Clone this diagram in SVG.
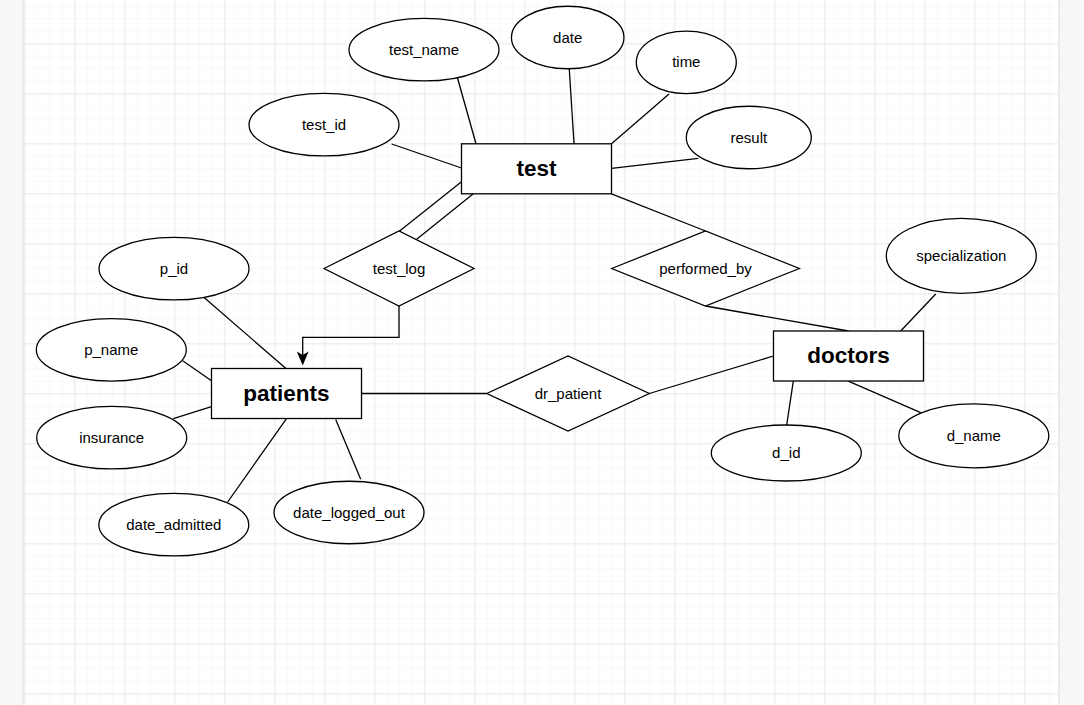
<svg xmlns="http://www.w3.org/2000/svg" width="1084" height="705" viewBox="0 0 1084 705">
<defs>
<pattern id="minor" x="24.3" y="5.8" width="12.5" height="12.5" patternUnits="userSpaceOnUse">
<path d="M0,0 H12.5 M0,0 V12.5" fill="none" stroke="#f1f1f1" stroke-width="1"/>
</pattern>
<pattern id="major" x="24.3" y="-6.7" width="50" height="50" patternUnits="userSpaceOnUse">
<path d="M0,0 H50 M0,0 V50" fill="none" stroke="#dddddd" stroke-width="1"/>
</pattern>
<style>
.conn line, .conn path { stroke: #000; stroke-width: 1.3; fill: none; }
.attr { fill: #fff; stroke: #000; stroke-width: 1.3; }
.ent { fill: #fff; stroke: #000; stroke-width: 1.3; }
.rel { fill: #fff; stroke: #000; stroke-width: 1.3; }
.lbl { font-family: "Liberation Sans", Arial, sans-serif; font-size: 15px; fill: #000; text-anchor: middle; }
.elbl { font-family: "Liberation Sans", Arial, sans-serif; font-size: 22.5px; font-weight: bold; fill: #000; text-anchor: middle; }
</style>
</defs>
<rect x="0" y="0" width="1084" height="705" fill="#f7f7f7"/>
<rect x="22" y="0" width="1038" height="705" fill="#ebebeb"/>
<rect x="24" y="0" width="1034" height="705" fill="#ffffff"/>
<rect x="24" y="0" width="1034" height="705" fill="url(#minor)"/>
<rect x="24" y="0" width="1034" height="705" fill="url(#major)"/>

<g id="connectors" class="conn">
<line x1="457" y1="76.3" x2="476" y2="143.8"/>
<line x1="391.7" y1="144" x2="461.5" y2="168"/>
<line x1="569.3" y1="69" x2="574" y2="143.8"/>
<line x1="669" y1="94" x2="611.5" y2="143.8"/>
<line x1="698.3" y1="158.3" x2="611.5" y2="168.3"/>
<line x1="461.5" y1="181.7" x2="399" y2="231.5"/>
<line x1="473.3" y1="193.8" x2="416.7" y2="239.3"/>
<line x1="611.5" y1="193.8" x2="705.5" y2="231"/>
<line x1="705.5" y1="306" x2="848.5" y2="331"/>
<line x1="935.7" y1="294" x2="900.7" y2="331"/>
<line x1="786.7" y1="425" x2="793.3" y2="381.2"/>
<line x1="848.3" y1="381.2" x2="920.7" y2="412.7"/>
<line x1="649.3" y1="393.5" x2="773.5" y2="356"/>
<line x1="361.5" y1="393.5" x2="486.7" y2="393.5"/>
<path d="M399,306 V337.3 H302.7 V356"/>
<path d="M302.7,363.8 L298.2,353 L302.7,355.8 L307.2,353 Z" fill="#000" style="fill:#000"/>
<line x1="200" y1="294" x2="286" y2="368.5"/>
<line x1="182.7" y1="360.7" x2="211.5" y2="380.7"/>
<line x1="173.3" y1="418.7" x2="211.5" y2="406.7"/>
<line x1="227.7" y1="502" x2="286.5" y2="418.7"/>
<line x1="360.7" y1="479.3" x2="335.7" y2="419.5"/>
</g>

<g id="test">
<rect class="ent" x="461.5" y="143.8" width="150" height="50"/>
<text class="elbl" x="536.5" y="175.8">test</text>
</g>
<g id="patients">
<rect class="ent" x="211.5" y="368.5" width="150" height="50"/>
<text class="elbl" x="286.5" y="400.5">patients</text>
</g>
<g id="doctors">
<rect class="ent" x="773.5" y="331" width="150" height="50"/>
<text class="elbl" x="848.5" y="363">doctors</text>
</g>

<g id="test_log">
<polygon class="rel" points="324,268.5 399,231 474,268.5 399,306"/>
<text class="lbl" x="399" y="273.5">test_log</text>
</g>
<g id="performed_by">
<polygon class="rel" points="611.7,268.5 705.5,231 799.3,268.5 705.5,306"/>
<text class="lbl" x="705.5" y="273.5">performed_by</text>
</g>
<g id="dr_patient">
<polygon class="rel" points="486.7,393.5 568,356 649.3,393.5 568,431"/>
<text class="lbl" x="568" y="398.5">dr_patient</text>
</g>

<g id="test_name">
<ellipse class="attr" cx="424" cy="49.7" rx="75" ry="31.25"/>
<text class="lbl" x="424" y="54.7">test_name</text>
</g>
<g id="test_id">
<ellipse class="attr" cx="324" cy="124.7" rx="75" ry="31.25"/>
<text class="lbl" x="324" y="129.7">test_id</text>
</g>
<g id="date">
<ellipse class="attr" cx="567.7" cy="37.5" rx="56.25" ry="31.25"/>
<text class="lbl" x="567.7" y="42.5">date</text>
</g>
<g id="time">
<ellipse class="attr" cx="686.3" cy="62.3" rx="50" ry="31.25"/>
<text class="lbl" x="686.3" y="67.3">time</text>
</g>
<g id="result">
<ellipse class="attr" cx="748.8" cy="137.5" rx="62.5" ry="31.25"/>
<text class="lbl" x="748.8" y="142.5">result</text>
</g>
<g id="p_id">
<ellipse class="attr" cx="174" cy="268.7" rx="75" ry="31.25"/>
<text class="lbl" x="174" y="273.7">p_id</text>
</g>
<g id="p_name">
<ellipse class="attr" cx="111.3" cy="349.8" rx="75" ry="31.25"/>
<text class="lbl" x="111.3" y="354.8">p_name</text>
</g>
<g id="insurance">
<ellipse class="attr" cx="111.7" cy="437.7" rx="75" ry="31.25"/>
<text class="lbl" x="111.7" y="442.7">insurance</text>
</g>
<g id="date_admitted">
<ellipse class="attr" cx="173.8" cy="524.7" rx="75" ry="31.25"/>
<text class="lbl" x="173.8" y="529.7">date_admitted</text>
</g>
<g id="date_logged_out">
<ellipse class="attr" cx="349" cy="512.5" rx="75" ry="31.25"/>
<text class="lbl" x="349" y="517.5">date_logged_out</text>
</g>
<g id="d_id">
<ellipse class="attr" cx="786.3" cy="453" rx="75" ry="28"/>
<text class="lbl" x="786.3" y="458">d_id</text>
</g>
<g id="d_name">
<ellipse class="attr" cx="973.8" cy="435.8" rx="75" ry="32"/>
<text class="lbl" x="973.8" y="440.8">d_name</text>
</g>
<g id="specialization">
<ellipse class="attr" cx="961.3" cy="255.8" rx="75" ry="37.5"/>
<text class="lbl" x="961.3" y="260.8">specialization</text>
</g>
</svg>
